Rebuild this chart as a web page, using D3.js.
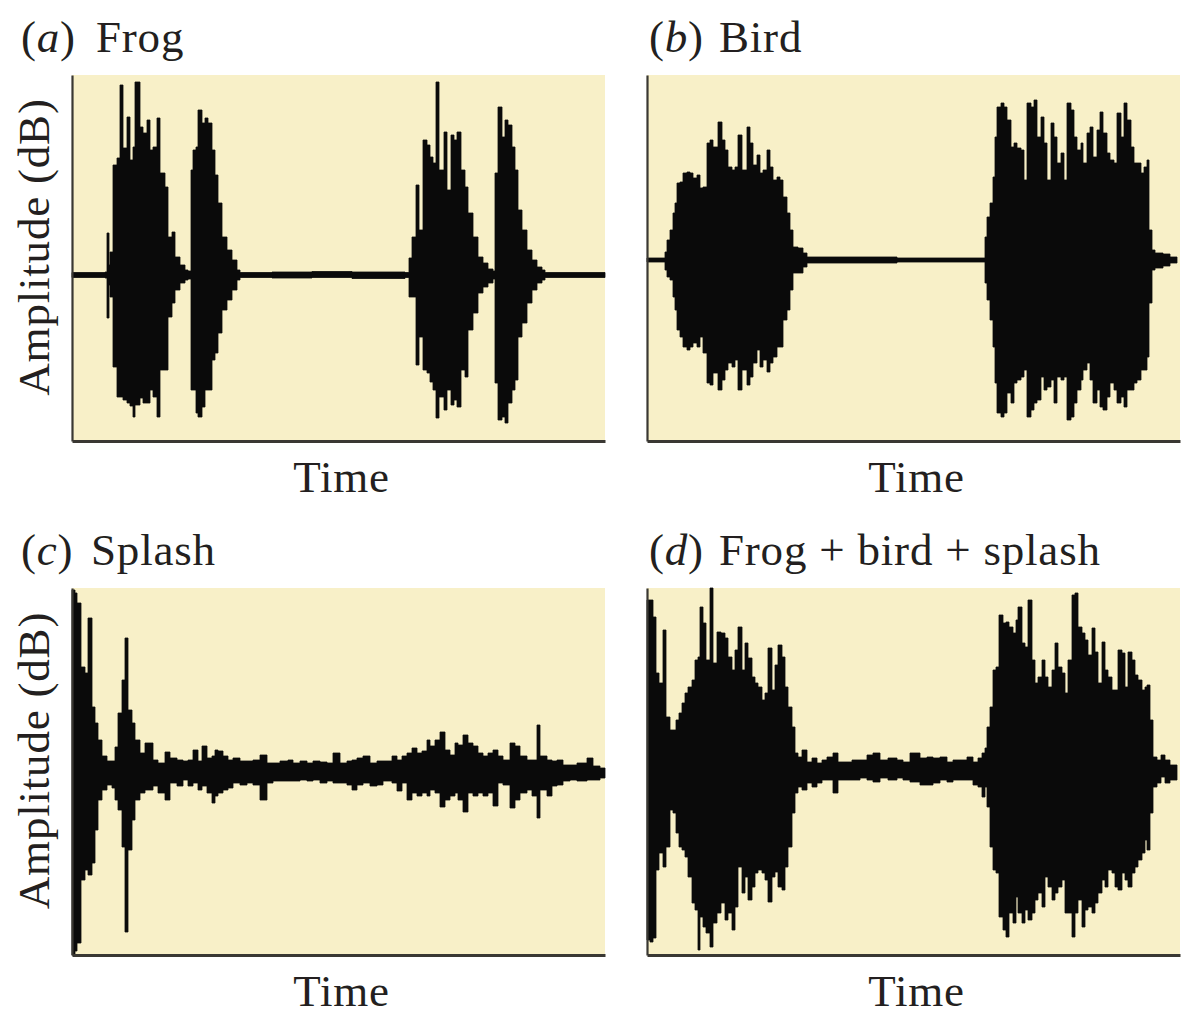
<!DOCTYPE html>
<html>
<head>
<meta charset="utf-8">
<script src="https://cdn.jsdelivr.net/npm/d3@7"></script>
<style>
  body { margin: 0; background: #ffffff; }
  text { font-family: "Liberation Serif", "Times New Roman", serif; fill: #231f20; letter-spacing: 0.8px; }
</style>
</head>
<body>
<svg id="chart" width="1192" height="1024"></svg>
<script>
// Waveform envelopes: time (arbitrary units, 0-533), upper and lower amplitude at each sample.

// (a) Frog
const frogTime = [0,28,33,35,37,38,41,45,48,51,55,58,61,63,68,71,75,78,81,85,88,93,96,100,103,108,113,116,119,121,124,126,130,133,136,140,143,146,150,155,160,165,168,200,240,280,333,337,340,344,347,351,355,358,361,364,367,372,375,379,382,385,389,393,396,401,406,411,416,421,423,426,430,433,436,440,443,446,450,455,460,465,470,473,500,533];
const frogHigh = [2.5,2.5,3,42,10,23,110,117,190,127,158,115,128,193,148,142,155,125,128,157,102,88,38,43,18,10,5,4,105,125,128,165,152,157,152,125,100,72,38,25,15,5,2.5,3,3.5,3,2.5,17,38,90,45,135,130,118,112,193,105,143,85,140,135,143,105,88,62,38,18,12,6,4,102,168,138,155,150,128,105,65,45,25,15,8,5,2.5,2.5,2.5];
const frogLow  = [-2.5,-2.5,-3,-43,-10,-22,-92,-122,-122,-125,-128,-131,-142,-130,-123,-128,-128,-115,-122,-142,-95,-95,-42,-28,-15,-8,-5,-4,-115,-115,-138,-142,-132,-115,-115,-85,-78,-58,-35,-25,-15,-5,-2.5,-3,-2.5,-3.5,-2.5,-22,-22,-90,-62,-95,-98,-107,-115,-143,-122,-135,-115,-130,-125,-132,-95,-102,-55,-38,-18,-12,-8,-4,-108,-145,-142,-148,-128,-115,-105,-62,-48,-28,-15,-8,-5,-2.5,-2.5,-2.5];

// (b) Bird
const birdTime = [0,16,18,20,23,26,28,30,33,36,40,43,46,50,53,56,60,63,66,71,75,78,81,85,88,91,95,100,103,106,110,113,116,120,123,126,130,133,136,140,143,146,151,156,160,250,333,338,340,343,346,348,350,354,357,360,364,367,370,374,377,380,384,387,390,394,397,400,404,407,410,414,417,420,424,427,430,434,436,440,443,446,450,453,456,460,463,467,470,474,477,480,484,487,490,494,497,500,502,505,508,516,523,530];
const birdHigh = [2,2,8,20,30,47,57,77,78,87,88,87,82,85,72,73,117,120,113,138,120,110,93,90,93,125,90,133,117,95,105,87,90,110,93,80,83,80,63,47,30,13,12,7,3,2,2,23,43,57,83,123,153,157,153,140,113,117,112,110,80,157,153,160,123,143,117,80,137,123,97,107,80,157,150,123,110,117,97,127,133,103,130,148,127,107,100,97,147,123,157,140,113,97,97,87,93,100,30,10,7,6,3,3];
const birdLow  = [-2,-2,-10,-17,-20,-37,-50,-70,-77,-87,-90,-87,-83,-87,-77,-93,-123,-125,-113,-130,-120,-110,-103,-107,-100,-130,-110,-125,-117,-103,-90,-107,-100,-112,-103,-97,-87,-87,-60,-50,-30,-13,-13,-7,-3,-2,-2,-23,-40,-60,-87,-123,-153,-157,-153,-133,-143,-123,-120,-117,-110,-157,-150,-143,-140,-117,-130,-127,-120,-143,-117,-120,-117,-160,-157,-143,-130,-120,-110,-103,-120,-143,-130,-147,-150,-137,-123,-130,-143,-137,-147,-130,-130,-123,-120,-110,-110,-97,-43,-10,-8,-6,-3,-3];

// (c) Splash
const splashTime = [0,3,5,9,13,16,20,23,26,30,35,40,43,46,50,53,56,60,63,68,73,76,81,86,93,98,105,111,116,121,126,130,135,140,143,146,151,156,161,168,175,181,188,195,201,208,216,221,228,235,241,248,255,261,268,275,280,285,291,298,305,311,320,325,330,335,340,345,350,355,358,363,368,373,378,383,386,391,396,401,406,411,416,421,426,431,438,443,448,455,460,465,468,475,480,485,491,498,505,515,521,528,533];
const splashHigh = [183,180,170,106,100,155,66,50,33,17,12,12,26,60,93,135,63,50,33,20,30,30,13,10,21,15,13,12,13,23,12,27,15,17,23,22,17,13,15,12,12,13,18,10,10,12,13,10,12,10,12,11,10,20,10,12,13,15,17,10,12,12,17,13,17,20,25,20,22,33,27,33,41,23,18,30,28,38,30,27,20,17,20,23,17,13,30,27,17,13,13,48,17,13,12,13,8,8,10,15,7,5,5];
const splashLow  = [-182,-178,-170,-107,-97,-102,-90,-57,-27,-17,-12,-15,-27,-37,-74,-159,-77,-47,-27,-20,-17,-17,-13,-20,-27,-10,-13,-7,-13,-10,-17,-13,-20,-30,-23,-20,-17,-15,-10,-12,-10,-12,-27,-10,-8,-8,-8,-8,-7,-8,-7,-10,-8,-10,-10,-12,-17,-12,-10,-13,-12,-8,-10,-18,-10,-27,-20,-23,-20,-23,-17,-20,-34,-27,-23,-20,-27,-39,-20,-23,-20,-23,-20,-33,-10,-12,-35,-27,-20,-17,-23,-45,-17,-23,-13,-12,-8,-7,-8,-7,-7,-5,-5];

// (d) Frog + bird + splash
const mixTime = [0,3,6,9,12,16,19,23,26,29,32,35,38,41,45,48,51,53,56,59,63,66,70,74,78,81,85,88,91,95,98,101,105,108,111,115,118,121,125,128,131,135,138,141,145,148,151,155,160,165,170,175,180,186,191,198,205,213,220,226,233,241,250,256,263,273,280,286,293,300,306,313,320,326,331,335,338,340,343,346,349,352,356,359,362,366,369,371,375,378,381,385,388,391,395,398,401,405,408,411,415,418,421,425,428,431,435,438,441,445,448,451,455,458,461,465,468,471,475,478,481,485,488,491,495,498,500,503,506,510,514,518,523,530];
const mixHigh = [170,170,153,97,87,140,53,40,40,50,57,67,77,83,90,110,113,163,147,110,182,107,138,137,132,113,100,120,143,100,127,112,93,87,83,70,77,122,80,105,125,113,83,63,43,17,13,20,8,12,7,10,13,17,8,8,10,10,15,17,10,12,10,8,17,12,13,12,13,8,10,10,13,8,12,17,22,43,63,100,103,155,147,148,143,137,150,163,127,123,170,110,87,93,110,93,83,100,127,103,97,77,110,175,177,143,137,130,115,142,118,87,128,100,93,80,80,120,117,83,118,110,95,90,80,83,85,50,13,10,15,10,5,5];
const mixLow  = [-170,-172,-168,-100,-83,-97,-77,-40,-43,-63,-77,-80,-87,-107,-133,-140,-180,-147,-157,-163,-177,-153,-143,-133,-150,-143,-160,-137,-97,-123,-107,-130,-117,-103,-100,-103,-110,-132,-107,-102,-117,-120,-97,-77,-43,-23,-17,-20,-13,-17,-13,-10,-10,-23,-10,-10,-10,-8,-10,-12,-8,-10,-8,-10,-12,-15,-15,-13,-10,-12,-10,-10,-10,-15,-17,-27,-17,-37,-77,-100,-103,-147,-160,-167,-143,-153,-127,-143,-153,-140,-150,-143,-130,-123,-137,-107,-117,-130,-123,-117,-110,-143,-143,-167,-143,-130,-157,-140,-137,-143,-133,-123,-110,-117,-100,-103,-117,-120,-103,-110,-117,-103,-97,-90,-83,-70,-80,-43,-17,-13,-7,-13,-10,-7];

const panelLetters = ["a", "b", "c", "d"];
const panelNames = ["Frog", "Bird", "Splash", "Frog + bird + splash"];
const xLabel = "Time";
const yLabel = "Amplitude (dB)";

// Layout
const colLeft = [72, 647];
const rowTop = [75, 588];
const plotW = 533;
const plotH = [366, 367];
const bg = "#f8f0c8";
const ink = "#0a0a0a";
const axisColor = "#3a3833";
const fontSize = 45;

const panels = [
  { time: frogTime,   high: frogHigh,   low: frogLow,   amp: [-166, 200], col: 0, row: 0 },
  { time: birdTime,   high: birdHigh,   low: birdLow,   amp: [-181, 185], col: 1, row: 0 },
  { time: splashTime, high: splashHigh, low: splashLow, amp: [-182, 185], col: 0, row: 1 },
  { time: mixTime,    high: mixHigh,    low: mixLow,    amp: [-185, 182], col: 1, row: 1 }
];

const svg = d3.select("#chart");

panels.forEach((p, k) => {
  const left = colLeft[p.col];
  const top = rowTop[p.row];
  const h = plotH[p.row];
  const bottom = top + h;

  const x = d3.scaleLinear().domain([0, 533]).range([left, left + plotW]);
  const y = d3.scaleLinear().domain(p.amp).range([bottom, top]);

  const g = svg.append("g");

  // plot background
  g.append("rect")
    .attr("x", left).attr("y", top)
    .attr("width", plotW).attr("height", h)
    .attr("fill", bg);

  // waveform envelope
  const idx = d3.range(p.time.length);
  const area = d3.area()
    .curve(d3.curveStepAfter)
    .x(i => x(p.time[i]))
    .y0(i => y(p.low[i]))
    .y1(i => y(p.high[i]));

  g.append("path")
    .datum(idx)
    .attr("d", area)
    .attr("fill", ink)
    .attr("stroke", ink)
    .attr("stroke-width", 0.8);

  // axes (no ticks)
  const ax = g.append("g")
    .attr("transform", `translate(0,${bottom})`)
    .call(d3.axisBottom(x).tickValues([]).tickSizeOuter(0));
  ax.select(".domain").attr("stroke", axisColor).attr("stroke-width", 3);

  const ay = g.append("g")
    .attr("transform", `translate(${left},0)`)
    .call(d3.axisLeft(y).tickValues([]).tickSizeOuter(0));
  ay.select(".domain").attr("stroke", axisColor).attr("stroke-width", 2.2);

  // panel title
  const titleX = p.col === 0 ? 21 : 649;
  const nameX = p.row === 0 && p.col === 0 ? 96 : titleX + 70;
  const title = g.append("text")
    .attr("x", titleX).attr("y", top - 23)
    .attr("font-size", fontSize);
  title.append("tspan").text("(");
  title.append("tspan").attr("font-style", "italic").text(panelLetters[k]);
  title.append("tspan").text(")");
  g.append("text")
    .attr("x", nameX).attr("y", top - 23)
    .attr("font-size", fontSize)
    .text(panelNames[k]);

  // x label
  g.append("text")
    .attr("x", left + plotW / 2 + 3).attr("y", bottom + 51)
    .attr("text-anchor", "middle")
    .attr("font-size", fontSize)
    .text(xLabel);

  // y label (left column only)
  if (p.col === 0) {
    g.append("text")
      .attr("transform", `translate(49,${top + h / 2 - 11}) rotate(-90)`)
      .attr("text-anchor", "middle")
      .attr("font-size", fontSize)
      .text(yLabel);
  }
});
</script>
</body>
</html>
